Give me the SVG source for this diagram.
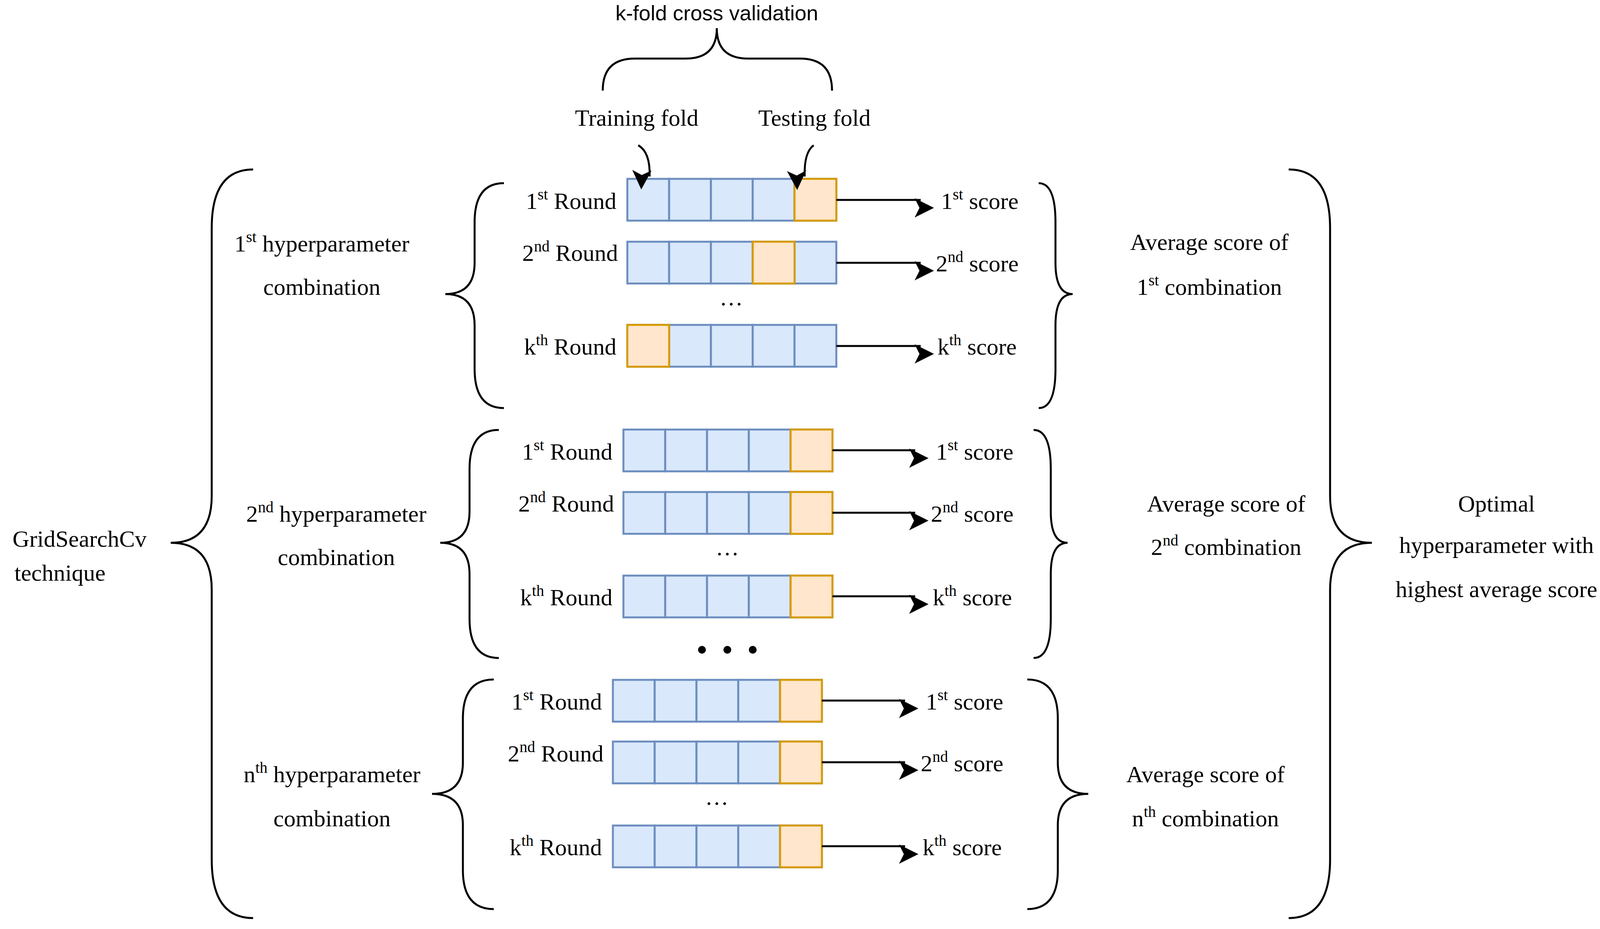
<svg xmlns="http://www.w3.org/2000/svg" width="4128" height="2379" viewBox="0 0 4128 2379">
<style>
text{font-family:"Liberation Serif","Times New Roman",serif;font-size:60px;fill:#000}
.s{font-size:40px}
.t{font-family:"Liberation Sans",Arial,sans-serif;font-size:54px}
.br{fill:none;stroke:#000;stroke-width:5}
.b{fill:#dae8fc;stroke:#6c8ebf;stroke-width:5}
.o{fill:#ffe6cc;stroke:#d79b00;stroke-width:5}
.ar{stroke:#000;stroke-width:5;fill:none;marker-end:url(#m)}
</style>
<defs>
<marker id="m" viewBox="0 0 10 10" refX="9" refY="5" markerWidth="9" markerHeight="9" markerUnits="userSpaceOnUse" orient="auto" overflow="visible">
<path d="M0,0 L10,5 L0,10 L2.5,5 Z" fill="#000" transform="scale(5.5) translate(-1.5,-0.0)"/>
</marker>
<g id="row5"><rect class="b" x="0" y="0" width="107" height="107"/><rect class="b" x="107" y="0" width="107" height="107"/><rect class="b" x="214" y="0" width="107" height="107"/><rect class="b" x="321" y="0" width="107" height="107"/><rect class="b" x="428" y="0" width="107" height="107"/></g>
</defs>
<rect width="4128" height="2379" fill="#fff"/>

<g id="braces">
<path class="br" d="M1543 232 Q1543 150 1625 150 L1755 150 Q1835 150 1835 72 Q1835 150 1915 150 L2048 150 Q2130 150 2130 232"/>
<path class="br" d="M648 434 Q542 434 542 584 L542 1270 Q542 1390 437 1390 Q542 1390 542 1510 L542 2201 Q542 2351 648 2351"/>
<path class="br" d="M3299 434 Q3405 434 3405 584 L3405 1270 Q3405 1390 3512 1390 Q3405 1390 3405 1510 L3405 2201 Q3405 2351 3299 2351"/>
<path class="br" d="M1290 469 Q1215 469 1215 569 L1215 673 Q1215 753 1140 753 Q1215 753 1215 833 L1215 945 Q1215 1045 1290 1045"/>
<path class="br" d="M1277 1101 Q1202 1101 1202 1201 L1202 1310 Q1202 1390 1127 1390 Q1202 1390 1202 1470 L1202 1585 Q1202 1685 1277 1685"/>
<path class="br" d="M1264 1740 Q1185 1740 1185 1840 L1185 1953 Q1185 2033 1106 2033 Q1185 2033 1185 2113 L1185 2228 Q1185 2328 1264 2328"/>
<path class="br" d="M2659 469 Q2702 469 2702 569 L2702 673 Q2702 753 2746 753 Q2702 753 2702 833 L2702 945 Q2702 1045 2659 1045"/>
<path class="br" d="M2646 1101 Q2690 1101 2690 1201 L2690 1310 Q2690 1390 2733 1390 Q2690 1390 2690 1470 L2690 1585 Q2690 1685 2646 1685"/>
<path class="br" d="M2630 1740 Q2708 1740 2708 1840 L2708 1953 Q2708 2033 2786 2033 Q2708 2033 2708 2113 L2708 2228 Q2708 2328 2630 2328"/>
</g>

<g id="top">
<text class="t" x="1835" y="52" text-anchor="middle">k-fold cross validation</text>
<text x="1630" y="322" text-anchor="middle">Training fold</text>
<text x="2085" y="322" text-anchor="middle">Testing fold</text>
</g>

<g id="left-labels">
<text x="32" y="1400">GridSearchCv</text>
<text x="37" y="1487">technique</text>
<text x="824" y="644" text-anchor="middle">1<tspan class="s" dy="-24">st</tspan><tspan dy="24"> hyperparameter</tspan></text>
<text x="824" y="755" text-anchor="middle">combination</text>
<text x="861" y="1336" text-anchor="middle">2<tspan class="s" dy="-24">nd</tspan><tspan dy="24"> hyperparameter</tspan></text>
<text x="861" y="1447" text-anchor="middle">combination</text>
<text x="850" y="2003" text-anchor="middle">n<tspan class="s" dy="-24">th</tspan><tspan dy="24"> hyperparameter</tspan></text>
<text x="850" y="2116" text-anchor="middle">combination</text>
</g>

<g id="right-labels">
<text x="3096" y="640" text-anchor="middle">Average score of</text>
<text x="3096" y="755" text-anchor="middle">1<tspan class="s" dy="-24">st</tspan><tspan dy="24"> combination</tspan></text>
<text x="3139" y="1310" text-anchor="middle">Average score of</text>
<text x="3139" y="1421" text-anchor="middle">2<tspan class="s" dy="-24">nd</tspan><tspan dy="24"> combination</tspan></text>
<text x="3086" y="2003" text-anchor="middle">Average score of</text>
<text x="3086" y="2116" text-anchor="middle">n<tspan class="s" dy="-24">th</tspan><tspan dy="24"> combination</tspan></text>
<text x="3831" y="1310" text-anchor="middle">Optimal</text>
<text x="3831" y="1416" text-anchor="middle">hyperparameter with</text>
<text x="3831" y="1529" text-anchor="middle">highest average score</text>
</g>

<g id="block1">
<use href="#row5" x="1606" y="458"/><rect class="o" x="2034" y="458" width="107" height="107"/>
<use href="#row5" x="1606" y="619"/><rect class="o" x="1927" y="619" width="107" height="107"/>
<use href="#row5" x="1606" y="832"/><rect class="o" x="1606" y="832" width="107" height="107"/>
<text x="1578" y="535" text-anchor="end">1<tspan class="s" dy="-24">st</tspan><tspan dy="24"> Round</tspan></text>
<text x="1582" y="668" text-anchor="end">2<tspan class="s" dy="-24">nd</tspan><tspan dy="24"> Round</tspan></text>
<text x="1578" y="908" text-anchor="end">k<tspan class="s" dy="-24">th</tspan><tspan dy="24"> Round</tspan></text>
<text x="2409" y="535">1<tspan class="s" dy="-24">st</tspan><tspan dy="24"> score</tspan></text>
<text x="2396" y="695">2<tspan class="s" dy="-24">nd</tspan><tspan dy="24"> score</tspan></text>
<text x="2400" y="908">k<tspan class="s" dy="-24">th</tspan><tspan dy="24"> score</tspan></text>
<text x="1872" y="782" text-anchor="middle">…</text>
</g>

<g id="block2">
<use href="#row5" x="1596" y="1100"/><rect class="o" x="2024" y="1100" width="107" height="107"/>
<use href="#row5" x="1596" y="1260"/><rect class="o" x="2024" y="1260" width="107" height="107"/>
<use href="#row5" x="1596" y="1474"/><rect class="o" x="2024" y="1474" width="107" height="107"/>
<text x="1568" y="1177" text-anchor="end">1<tspan class="s" dy="-24">st</tspan><tspan dy="24"> Round</tspan></text>
<text x="1572" y="1310" text-anchor="end">2<tspan class="s" dy="-24">nd</tspan><tspan dy="24"> Round</tspan></text>
<text x="1568" y="1550" text-anchor="end">k<tspan class="s" dy="-24">th</tspan><tspan dy="24"> Round</tspan></text>
<text x="2396" y="1177">1<tspan class="s" dy="-24">st</tspan><tspan dy="24"> score</tspan></text>
<text x="2383" y="1336">2<tspan class="s" dy="-24">nd</tspan><tspan dy="24"> score</tspan></text>
<text x="2388" y="1550">k<tspan class="s" dy="-24">th</tspan><tspan dy="24"> score</tspan></text>
<text x="1862" y="1422" text-anchor="middle">…</text>
</g>

<g id="dots">
<circle cx="1797" cy="1664" r="10"/><circle cx="1862" cy="1664" r="10"/><circle cx="1927" cy="1664" r="10"/>
</g>

<g id="block3">
<use href="#row5" x="1569" y="1741"/><rect class="o" x="1997" y="1741" width="107" height="107"/>
<use href="#row5" x="1569" y="1899"/><rect class="o" x="1997" y="1899" width="107" height="107"/>
<use href="#row5" x="1569" y="2114"/><rect class="o" x="1997" y="2114" width="107" height="107"/>
<text x="1541" y="1817" text-anchor="end">1<tspan class="s" dy="-24">st</tspan><tspan dy="24"> Round</tspan></text>
<text x="1545" y="1950" text-anchor="end">2<tspan class="s" dy="-24">nd</tspan><tspan dy="24"> Round</tspan></text>
<text x="1541" y="2190" text-anchor="end">k<tspan class="s" dy="-24">th</tspan><tspan dy="24"> Round</tspan></text>
<text x="2370" y="1817">1<tspan class="s" dy="-24">st</tspan><tspan dy="24"> score</tspan></text>
<text x="2357" y="1975">2<tspan class="s" dy="-24">nd</tspan><tspan dy="24"> score</tspan></text>
<text x="2362" y="2190">k<tspan class="s" dy="-24">th</tspan><tspan dy="24"> score</tspan></text>
<text x="1835" y="2061" text-anchor="middle">…</text>
</g>

<g id="connectors">
<path class="ar" d="M1634 372 Q1665 390 1663 452"/>
<path class="ar" d="M2083 372 Q2058 390 2060 452"/>
<path class="ar" d="M2141 512 L2357 512"/>
<path class="ar" d="M2141 673 L2357 673"/>
<path class="ar" d="M2141 886 L2357 886"/>
<path class="ar" d="M2131 1153 L2343 1153"/>
<path class="ar" d="M2131 1313 L2343 1313"/>
<path class="ar" d="M2131 1527 L2343 1527"/>
<path class="ar" d="M2104 1794 L2317 1794"/>
<path class="ar" d="M2104 1952 L2317 1952"/>
<path class="ar" d="M2104 2167 L2317 2167"/>
</g>
</svg>
